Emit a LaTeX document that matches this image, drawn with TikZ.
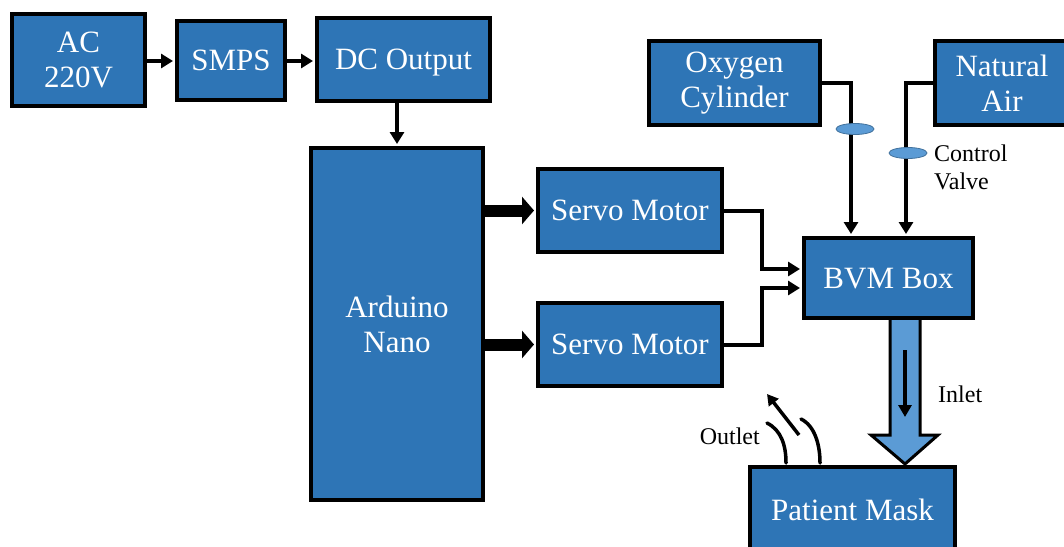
\documentclass[tikz,border=0pt]{standalone}
\usepackage{fontspec}
\setmainfont{Liberation Serif}
\usetikzlibrary{arrows.meta,calc,shapes.geometric}
\definecolor{boxblue}{RGB}{46,117,182}
\definecolor{lightblue}{RGB}{91,155,213}
\definecolor{valveedge}{RGB}{65,113,156}
\begin{document}
\begin{tikzpicture}[x=1pt,y=-1pt,
  blk/.style={draw=black, line width=4pt, fill=boxblue, text=white,
    font=\fontsize{31}{35}\selectfont, align=center, inner sep=0pt},
  oneline/.style={blk, text height=22pt, text depth=2pt},
  arr/.style={line width=4pt, -{Triangle[length=12pt,width=14pt]}, shorten >=2pt},
  fatarr/.style={line width=12pt, -{Triangle[length=12pt,width=27pt]}, shorten >=2pt},
  valve/.style={ellipse, draw=valveedge, line width=0.8pt, fill=lightblue,
    minimum width=38pt, minimum height=11pt, inner sep=0pt},
  lbl/.style={font=\fontsize{24}{28}\selectfont, text=black, align=left, inner sep=0pt},
  curl/.style={line width=3.5pt, line cap=round}]
\useasboundingbox (0,0) rectangle (1064,546);
\clip (0,0) rectangle (1064,546);

% fat inlet arrow (drawn first, boxes overlap)
\coordinate (ftop) at (905,318);
\draw[line width=3pt, fill=lightblue, line join=miter]
  ($(ftop)+(-15,0)$) -- (890,435) -- (871,435) -- (905,464) -- (938,435)
  -- (920,435) -- ($(ftop)+(15,0)$) -- cycle;

% blocks
\node[blk, minimum width=133pt, minimum height=92pt] (ac) at (78.5,60) {AC\\220V};
\node[oneline, minimum width=108pt, minimum height=79pt] (smps) at (231,60.5) {SMPS};
\node[oneline, minimum width=173pt, minimum height=83pt] (dc) at (403.5,59.5) {DC Output};
\node[blk, minimum width=172pt, minimum height=352pt] (ard) at (397,324) {Arduino\\Nano};
\node[oneline, minimum width=184pt, minimum height=83pt] (s1) at (630,210.5) {Servo Motor};
\node[oneline, minimum width=184pt, minimum height=83pt] (s2) at (630,344.5) {Servo Motor};
\node[oneline, minimum width=169pt, minimum height=80pt] (bvm) at (888.5,278) {BVM Box};
\node[blk, minimum width=171pt, minimum height=84pt] (oxy) at (734.5,83) {Oxygen\\Cylinder};
\node[blk, minimum width=134pt, minimum height=84pt] (air) at (1002,83) {Natural\\Air};
\node[oneline, minimum width=205pt, minimum height=86pt] (mask) at (852.5,510) {Patient Mask};

% power chain
\draw[arr] (ac.east |- 0,61) -- (smps.west |- 0,61);
\draw[arr] (smps.east |- 0,61) -- (dc.west |- 0,61);
\draw[arr] (ard.north |- dc.south) -- (ard.north);

% arduino to servos
\draw[fatarr] (ard.east |- s1) -- (s1.west);
\draw[fatarr] (ard.east |- s2) -- (s2.west);

% servos to BVM
\draw[arr] (s1.east) -- ++(38,0) |- ([yshift=9pt]bvm.west);
\draw[arr] (s2.east) -- ++(38,0) |- ([yshift=-10pt]bvm.west);

% gas supply
\draw[arr] (oxy.east) -| ([xshift=-37.5pt]bvm.north);
\draw[arr] (air.west) -| ([xshift=17.5pt]bvm.north);
\node[valve] (v1) at (855,129) {};
\node[valve] (v2) at (908,153) {};
\node[lbl, anchor=west] (cv) at (934,167) {Control\\Valve};

% inner arrow of inlet
\coordinate (ia) at (905,350);
\coordinate (ib) at (905,417);
\draw[line width=3.5pt, -{Triangle[length=12pt,width=13pt]}] (ia) -- (ib);
\node[lbl, anchor=west] (inlet) at (938,394) {Inlet};

% outlet
\node[lbl, anchor=east] (outlet) at (760,436) {Outlet};
\coordinate (c1a) at (767,423);
\coordinate (c1b) at (786,463);
\coordinate (c2a) at (801,419);
\coordinate (c2b) at (820,463);
\draw[curl] (c1a) .. controls (781,430) and (786,445) .. (c1b);
\draw[curl] (c2a) .. controls (815,426) and (820,445) .. (c2b);
\coordinate (oa) at (799,435);
\coordinate (ob) at (767,394);
\draw[line width=3.5pt, -{Triangle[length=11pt,width=12pt]}] (oa) -- (ob);
\end{tikzpicture}
\end{document}
